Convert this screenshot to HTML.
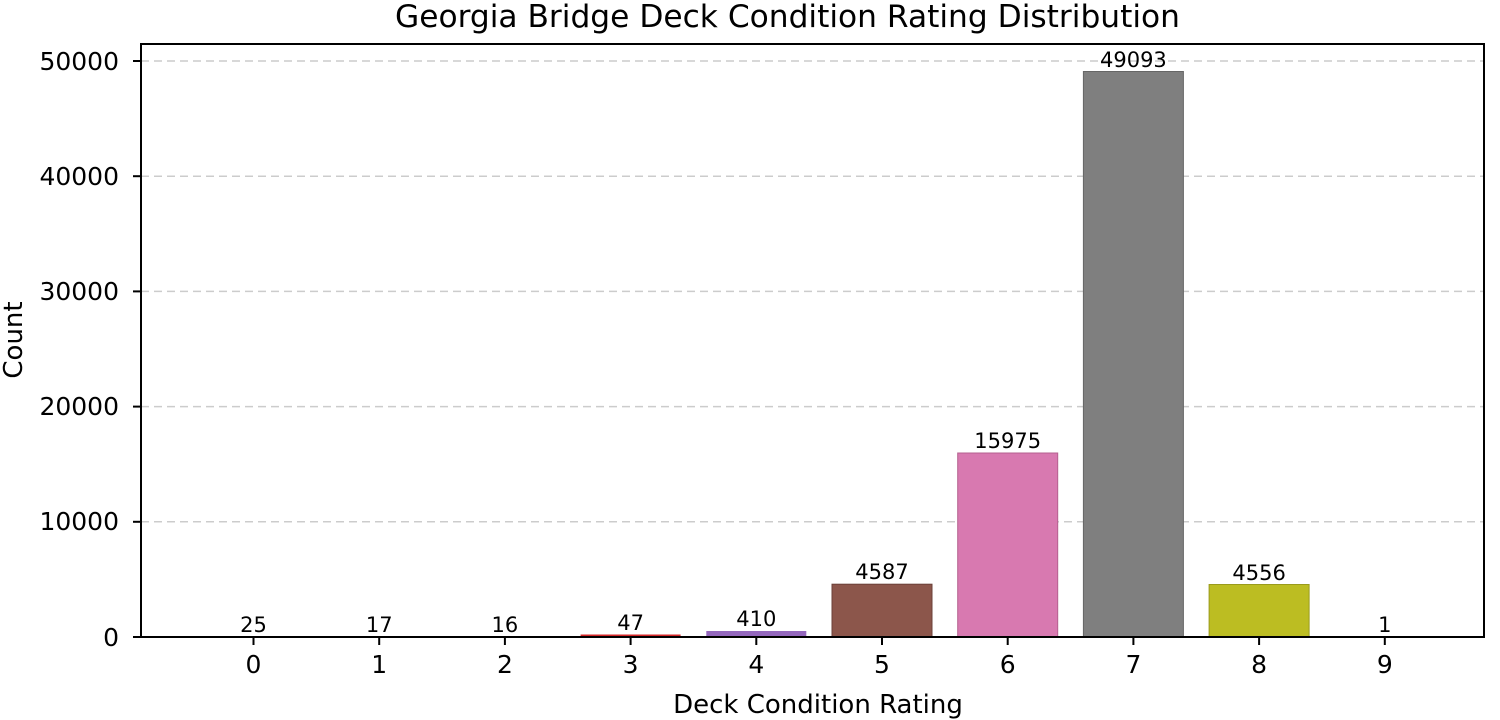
<!DOCTYPE html><html><head><meta charset="utf-8"><style>body{margin:0;background:#fff}svg{display:block}</style></head><body>
<svg width="1500" height="720" xmlns="http://www.w3.org/2000/svg" font-family="DejaVu Sans, Liberation Sans, sans-serif">
<text x="395" y="27" font-size="31" textLength="785" lengthAdjust="spacingAndGlyphs">Georgia Bridge Deck Condition Rating Distribution</text>
<g stroke="#ccc" stroke-width="1.5" stroke-dasharray="8,5">
<line x1="141" x2="1484" y1="61" y2="61"/><line x1="141" x2="1484" y1="176.2" y2="176.2"/><line x1="141" x2="1484" y1="291.4" y2="291.4"/><line x1="141" x2="1484" y1="406.6" y2="406.6"/><line x1="141" x2="1484" y1="521.8" y2="521.8"/>
</g>
<g>
<rect x="832" y="584.2" width="100" height="52.8" fill="#8c564b" stroke="#6b4038"/>
<rect x="957.7" y="453" width="100" height="184" fill="#d879b0" stroke="#b5608f"/>
<rect x="1083.4" y="71.5" width="100" height="565.5" fill="#7f7f7f" stroke="#666"/>
<rect x="1209.1" y="584.5" width="100" height="52.5" fill="#bcbd22" stroke="#9a9b1c"/>
<rect x="706.3" y="631" width="100" height="6" fill="#9467bd"/>
<rect x="580.6" y="634.5" width="100" height="2.5" fill="#d62728"/>
</g>
<g font-size="21" text-anchor="middle">
<text x="253.5" y="632">25</text><text x="379.2" y="632">17</text><text x="504.9" y="632">16</text><text x="630.6" y="630">47</text><text x="756.3" y="626">410</text><text x="882" y="579">4587</text><text x="1007.7" y="448">15975</text><text x="1133.4" y="67">49093</text><text x="1259.1" y="580">4556</text><text x="1384.8" y="632">1</text>
</g>
<rect x="141" y="44" width="1343" height="593" fill="none" stroke="#000" stroke-width="2"/>
<g stroke="#000" stroke-width="2">
<line x1="133" x2="141" y1="61" y2="61"/><line x1="133" x2="141" y1="176.2" y2="176.2"/><line x1="133" x2="141" y1="291.4" y2="291.4"/><line x1="133" x2="141" y1="406.6" y2="406.6"/><line x1="133" x2="141" y1="521.8" y2="521.8"/><line x1="133" x2="141" y1="637" y2="637"/>
<line x1="253.5" x2="253.5" y1="637" y2="645"/><line x1="379.2" x2="379.2" y1="637" y2="645"/><line x1="504.9" x2="504.9" y1="637" y2="645"/><line x1="630.6" x2="630.6" y1="637" y2="645"/><line x1="756.3" x2="756.3" y1="637" y2="645"/><line x1="882" x2="882" y1="637" y2="645"/><line x1="1007.7" x2="1007.7" y1="637" y2="645"/><line x1="1133.4" x2="1133.4" y1="637" y2="645"/><line x1="1259.1" x2="1259.1" y1="637" y2="645"/><line x1="1384.8" x2="1384.8" y1="637" y2="645"/>
</g>
<g font-size="25" text-anchor="end">
<text x="119" y="70">50000</text><text x="119" y="185">40000</text><text x="119" y="300">30000</text><text x="119" y="415">20000</text><text x="119" y="530">10000</text><text x="119" y="646">0</text>
</g>
<g font-size="25" text-anchor="middle">
<text x="253.5" y="673">0</text><text x="379.2" y="673">1</text><text x="504.9" y="673">2</text><text x="630.6" y="673">3</text><text x="756.3" y="673">4</text><text x="882" y="673">5</text><text x="1007.7" y="673">6</text><text x="1133.4" y="673">7</text><text x="1259.1" y="673">8</text><text x="1384.8" y="673">9</text>
</g>
<text x="818" y="713" font-size="26" text-anchor="middle">Deck Condition Rating</text>
<text transform="translate(22,340) rotate(-90)" font-size="26" text-anchor="middle">Count</text>
</svg></body></html>
